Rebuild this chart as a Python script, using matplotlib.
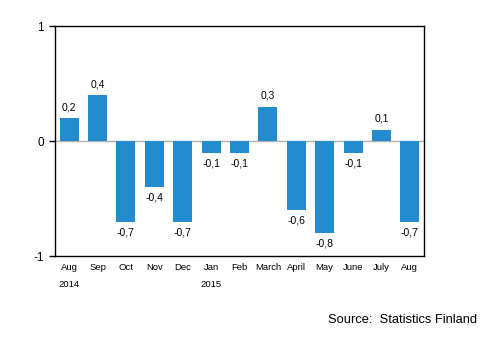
import matplotlib.pyplot as plt

plt.rcParams['font.family'] = ['Liberation Sans', 'DejaVu Sans']

# Monthly change, Aug 2014 - Aug 2015
months = ['Aug', 'Sep', 'Oct', 'Nov', 'Dec', 'Jan', 'Feb', 'March', 'April',
          'May', 'June', 'July', 'Aug']
years = {0: '2014', 5: '2015'}
values = [0.2, 0.4, -0.7, -0.4, -0.7, -0.1, -0.1, 0.3, -0.6, -0.8, -0.1, 0.1, -0.7]

fig = plt.figure(figsize=(4.94, 3.39), dpi=100)
ax = fig.add_axes([0.1113, 0.2448, 0.7470, 0.6785])

x = list(range(len(values)))
ax.bar(x, values, width=0.67, color='#238ccf', zorder=2)
ax.axhline(0, color='#b0b0b0', lw=1, zorder=1)

for xi, v in zip(x, values):
    lbl = f'{v:.1f}'.replace('.', ',')
    if v >= 0:
        ax.annotate(lbl, (xi, v), xytext=(0, 4), textcoords='offset points',
                    ha='center', va='bottom', fontsize=7.5)
    else:
        ax.annotate(lbl, (xi, v), xytext=(0, -4), textcoords='offset points',
                    ha='center', va='top', fontsize=7.5)

ax.set_xlim(-0.5, len(values) - 0.5)
ax.set_ylim(-1, 1)
ax.set_yticks([-1, 0, 1])
ax.set_yticklabels(['-1', '0', '1'], fontsize=8.5)
ax.tick_params(axis='y', length=4, width=1, pad=4)
ax.set_xticks(x)
ax.set_xticklabels(months, fontsize=6.8)
ax.tick_params(axis='x', length=0, pad=5)
for xi, yr in years.items():
    ax.text(xi, -1.21, yr, ha='center', va='top', fontsize=6.8)
for s in ax.spines.values():
    s.set_linewidth(1)

fig.text(0.966, 0.038, 'Source:  Statistics Finland', ha='right', va='bottom', fontsize=9.3)

fig.savefig('out.png', dpi=100)
